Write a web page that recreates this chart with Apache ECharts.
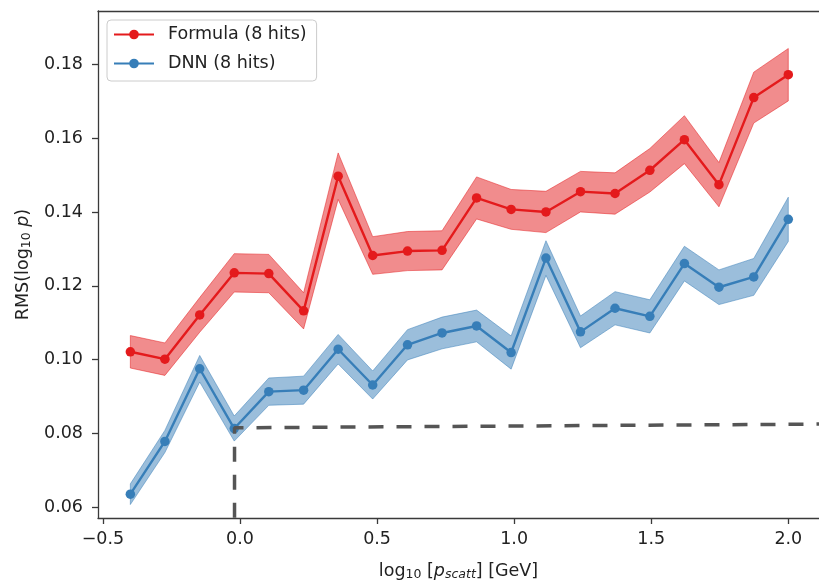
<!DOCTYPE html>
<html>
<head>
<meta charset="utf-8">
<script src="https://cdn.jsdelivr.net/npm/echarts@6/dist/echarts.min.js"></script>
<style>
  html, body { margin: 0; padding: 0; background: #ffffff; }
  #chart { width: 819px; height: 586px; }
</style>
</head>
<body>
<div id="chart"></div>
<script>
// Bin centres, log10 of the scattering momentum [GeV]
const binCentres = [-0.4, -0.274, -0.147, -0.021, 0.105, 0.232, 0.358, 0.484, 0.611, 0.737,
                    0.863, 0.989, 1.116, 1.242, 1.368, 1.495, 1.621, 1.747, 1.874, 2.0];

// RMS of log10(p) for the analytic formula and its uncertainty
const formulaRms = [0.1021, 0.1001, 0.1121, 0.1235, 0.1233, 0.1132, 0.1497, 0.1282, 0.1294, 0.1296,
                    0.1438, 0.1407, 0.1400, 0.1455, 0.1450, 0.1513, 0.1596, 0.1474, 0.1710, 0.1772];
const formulaErr = [0.0044, 0.0044, 0.0047, 0.0052, 0.0052, 0.0049, 0.0063, 0.0051, 0.0053, 0.0053,
                    0.0057, 0.0054, 0.0056, 0.0055, 0.0056, 0.0059, 0.0065, 0.0060, 0.0069, 0.0071];

// RMS of log10(p) for the DNN and its uncertainty
const dnnRms = [0.0635, 0.0778, 0.0975, 0.0813, 0.0913, 0.0917, 0.1028, 0.0931, 0.1040, 0.1072,
                0.1091, 0.1019, 0.1275, 0.1075, 0.1139, 0.1117, 0.1260, 0.1196, 0.1224, 0.1380];
const dnnErr = [0.0028, 0.0030, 0.0036, 0.0034, 0.0037, 0.0038, 0.0040, 0.0038, 0.0041, 0.0043,
                0.0043, 0.0045, 0.0047, 0.0043, 0.0045, 0.0045, 0.0047, 0.0047, 0.0050, 0.0060];

// Dashed guide: corner at the DNN value near log10 p = 0
const guideX = [-0.02, -0.02, 2.112];
const guideY = [0.0571, 0.0815, 0.0825];

// Tick labels
const xTicks = [-0.5, 0.0, 0.5, 1.0, 1.5, 2.0];
const yTicks = [0.06, 0.08, 0.10, 0.12, 0.14, 0.16, 0.18];

const X_MIN = -0.518, X_MAX = 2.112;
const Y_MIN = 0.05705, Y_MAX = 0.19447;

const RED = '#e41a1c';
const BLUE = '#377eb8';
const FONT = 'DejaVu Sans';
const TEXT = '#222222';
const SPINE = '#3a3a3a';

// Filled band between value - err and value + err
function bandSeries(values, errs, color) {
  return {
    type: 'custom',
    silent: true,
    z: 1,
    data: [[binCentres[0], values[0]]],
    renderItem: function (params, api) {
      const pts = [];
      for (let i = 0; i < binCentres.length; i++) {
        pts.push(api.coord([binCentres[i], values[i] + errs[i]]));
      }
      for (let i = binCentres.length - 1; i >= 0; i--) {
        pts.push(api.coord([binCentres[i], values[i] - errs[i]]));
      }
      return {
        type: 'polygon',
        shape: { points: pts },
        style: { fill: color, opacity: 0.5, stroke: color, lineWidth: 1 }
      };
    }
  };
}

function lineSeries(name, values, color) {
  return {
    name: name,
    type: 'line',
    z: 3,
    data: binCentres.map((x, i) => [x, values[i]]),
    symbol: 'circle',
    symbolSize: 9.5,
    showSymbol: true,
    lineStyle: { color: color, width: 2.4 },
    itemStyle: { color: color },
    emphasis: { disabled: true }
  };
}

const chart = echarts.init(document.getElementById('chart'), null, { renderer: 'canvas' });

chart.setOption({
  animation: false,
  backgroundColor: '#ffffff',
  grid: { left: 98, top: 11, right: 0, bottom: 62 },
  legend: {
    data: ['Formula (8 hits)', 'DNN (8 hits)'],
    orient: 'vertical',
    left: 107, top: 20,
    padding: [4, 10, 7, 6],
    itemWidth: 40, itemHeight: 12, itemGap: 8,
    backgroundColor: 'rgba(255,255,255,0.8)',
    borderColor: '#cccccc', borderWidth: 1, borderRadius: 4,
    textStyle: { fontFamily: FONT, fontSize: 17.5, color: TEXT, lineHeight: 21, padding: [0, 0, 0, 9] }
  },
  xAxis: [{
    type: 'value',
    min: X_MIN, max: X_MAX,
    splitLine: { show: false },
    axisLine: { show: true, onZero: false, lineStyle: { color: SPINE, width: 1.3 } },
    axisTick: { show: true, customValues: xTicks, length: 6, lineStyle: { color: SPINE, width: 1.3 } },
    axisLabel: {
      customValues: xTicks, margin: 12,
      fontFamily: FONT, fontSize: 17.5, color: TEXT,
      formatter: v => v.toFixed(1).replace('-', '\u2212')
    },
    name: '{a|log}{s|10}{a| [}{i|p}{t|scatt}{a|] [GeV]}',
    nameLocation: 'middle',
    nameGap: 43,
    nameTextStyle: {
      fontFamily: FONT, fontSize: 17.5, color: TEXT,
      rich: {
        a: { fontFamily: FONT, fontSize: 17.5, color: TEXT, lineHeight: 20 },
        s: { fontFamily: FONT, fontSize: 12.5, color: TEXT, lineHeight: 12, verticalAlign: 'bottom' },
        i: { fontFamily: FONT, fontSize: 17.5, color: TEXT, lineHeight: 20, fontStyle: 'italic' },
        t: { fontFamily: FONT, fontSize: 12.5, color: TEXT, lineHeight: 12, verticalAlign: 'bottom', fontStyle: 'italic' }
      }
    }
  }, {
    // top spine of the frame
    type: 'value',
    position: 'top',
    min: X_MIN, max: X_MAX,
    splitLine: { show: false },
    axisLine: { show: true, onZero: false, lineStyle: { color: SPINE, width: 1.3 } },
    axisTick: { show: false },
    axisLabel: { show: false }
  }],
  yAxis: {
    type: 'value',
    min: Y_MIN, max: Y_MAX,
    splitLine: { show: false },
    axisLine: { show: true, onZero: false, lineStyle: { color: SPINE, width: 1.3 } },
    axisTick: { show: true, customValues: yTicks, length: 6, lineStyle: { color: SPINE, width: 1.3 } },
    axisLabel: {
      customValues: yTicks, margin: 15,
      fontFamily: FONT, fontSize: 17.5, color: TEXT,
      formatter: v => v.toFixed(2)
    },
    name: '{a|RMS(log}{s|10}{i| p}{a|)}',
    nameLocation: 'middle',
    nameGap: 65,
    nameTextStyle: {
      fontFamily: FONT, fontSize: 17.5, color: TEXT,
      rich: {
        a: { fontFamily: FONT, fontSize: 17.5, color: TEXT, lineHeight: 20 },
        s: { fontFamily: FONT, fontSize: 12.5, color: TEXT, lineHeight: 12, verticalAlign: 'bottom' },
        i: { fontFamily: FONT, fontSize: 17.5, color: TEXT, lineHeight: 20, fontStyle: 'italic' }
      }
    }
  },
  series: [
    bandSeries(formulaRms, formulaErr, RED),
    bandSeries(dnnRms, dnnErr, BLUE),
    lineSeries('Formula (8 hits)', formulaRms, RED),
    lineSeries('DNN (8 hits)', dnnRms, BLUE),
    {
      type: 'line',
      silent: true,
      z: 4,
      data: guideX.map((x, i) => [x, guideY[i]]),
      symbol: 'none',
      lineStyle: { color: '#555555', width: 3.5, type: [15, 13], cap: 'butt' },
      emphasis: { disabled: true }
    }
  ]
});
</script>
</body>
</html>
